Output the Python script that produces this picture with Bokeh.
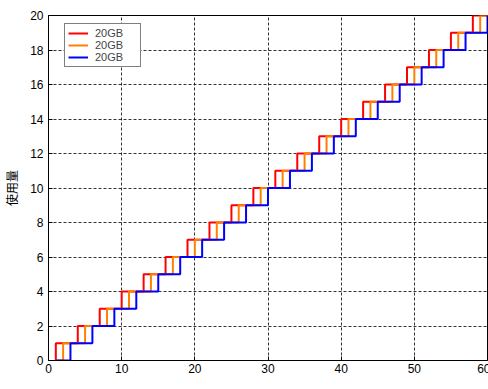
from bokeh.plotting import figure
from bokeh.models import FixedTicker, Legend, LegendItem, Label, Range1d
from bokeh.embed import file_html
from bokeh.resources import INLINE

# Data (stairs: value held after each time)
red_t = [1, 1, 4, 7, 10, 13, 16, 19, 22, 25, 28, 31, 34, 37, 40, 43, 46, 49, 52, 55, 58, 60]
orange_t = [1, 2, 5, 8, 11, 14, 17, 20, 23, 26, 29, 32, 35, 38, 41, 44, 47, 50, 53, 56, 59, 60]
blue_t = [1, 3, 6, 9, 12, 15, 18, 21, 24, 27, 30, 33, 36, 39, 42, 45, 48, 51, 54, 57, 60, 60]
levels = [0, 1, 2, 3, 4, 5, 6, 7, 8, 9, 10, 11, 12, 13, 14, 15, 16, 17, 18, 19, 20, 20]
series_names = ["20GB", "20GB", "20GB"]
x_ticks = [0, 10, 20, 30, 40, 50, 60]
y_ticks = [0, 2, 4, 6, 8, 10, 12, 14, 16, 18, 20]
x_label = "時間"
y_label = "使用量"

p = figure(
    frame_width=439, frame_height=345,
    min_border_left=38, min_border_right=3, min_border_top=15, min_border_bottom=29,
    x_range=Range1d(0, 60), y_range=Range1d(0, 20),
    output_backend="svg", toolbar_location=None,
    background_fill_color="white", border_fill_color="white",
)
p.outline_line_color = "black"
p.outline_line_width = 1

tick_font = "Liberation Sans"
for ax in (p.xaxis[0], p.yaxis[0]):
    ax.axis_line_color = "black"
    ax.major_tick_in = 4
    ax.major_tick_out = 0
    ax.minor_tick_line_color = None
    ax.major_tick_line_color = "black"
    ax.major_label_text_font = tick_font
    ax.major_label_text_font_size = "12px"
    ax.major_label_text_color = "black"

p.xaxis.ticker = FixedTicker(ticks=x_ticks)
p.yaxis.ticker = FixedTicker(ticks=y_ticks)
p.xaxis.major_label_standoff = 3
p.yaxis.major_label_standoff = 5

p.yaxis.axis_label = y_label
p.yaxis.axis_label_text_font = "Noto Sans CJK JP"
p.yaxis.axis_label_text_font_size = "12px"
p.yaxis.axis_label_text_font_style = "normal"
p.yaxis.axis_label_text_color = "black"
p.yaxis.axis_label_standoff = 7

for g in (p.xgrid[0], p.ygrid[0]):
    g.grid_line_color = "black"
    g.grid_line_alpha = 0.8
    g.grid_line_dash = "3 2"
    g.grid_line_width = 1
p.xgrid.ticker = FixedTicker(ticks=x_ticks)
p.ygrid.ticker = FixedTicker(ticks=y_ticks)

r_red = p.step(red_t, levels, mode="after", line_color="#FF0000", line_width=2)
r_orange = p.step(orange_t, levels, mode="after", line_color="#FF8000", line_width=2)
r_blue = p.step(blue_t, levels, mode="after", line_color="#0000FF", line_width=2)

legend = Legend(
    items=[LegendItem(label=series_names[0], renderers=[r_red]),
           LegendItem(label=series_names[1], renderers=[r_orange]),
           LegendItem(label=series_names[2], renderers=[r_blue])],
    location=(16, 293),
    padding=3, spacing=0, margin=0,
    glyph_width=20, glyph_height=12, label_height=12,
    label_width=42, label_standoff=7,
    label_text_font=tick_font, label_text_font_size="11px",
    border_line_color="black", border_line_width=1,
    background_fill_color="white", background_fill_alpha=1,
)
p.add_layout(legend, "center")

xl = Label(x=30, y=-0.95, text=x_label, text_align="center", text_baseline="top",
           text_font="Noto Sans CJK JP", text_font_size="12px", text_color="black")
p.add_layout(xl)

open("out.html", "w").write(file_html(p, INLINE))
